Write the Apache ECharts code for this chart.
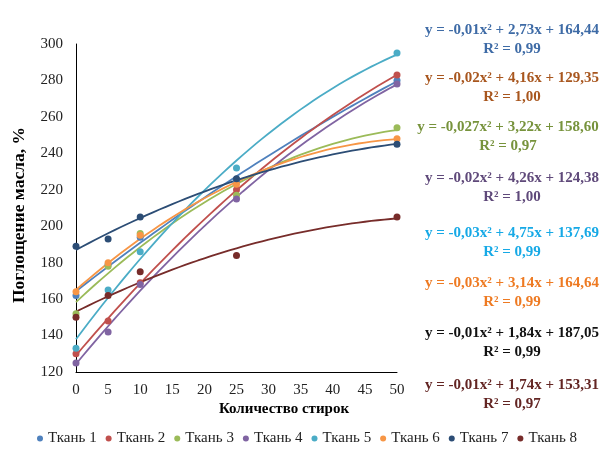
<!DOCTYPE html>
<html>
<head>
<meta charset="utf-8">
<script src="https://cdn.jsdelivr.net/npm/echarts@6/dist/echarts.min.js"></script>
<style>
  html, body { margin: 0; padding: 0; background: #fff; }
  #chartmain { width: 608px; height: 470px; }
</style>
</head>
<body>
<div id="chartmain"></div>
<script>
var xValues = [0, 5, 10, 25, 50]; // количество стирок
var names = ['Ткань 1', 'Ткань 2', 'Ткань 3', 'Ткань 4', 'Ткань 5', 'Ткань 6', 'Ткань 7', 'Ткань 8'];
var tkan1 = [162, 179, 194, 225, 280];
var tkan2 = [130, 148, 169, 220, 283];
var tkan3 = [152, 178, 196, 217, 254];
var tkan4 = [125, 142, 168, 215, 278];
var tkan5 = [133, 165, 186, 232, 295];
var tkan6 = [164, 180, 195, 223, 248];
var tkan7 = [189, 193, 205, 226, 245];
var tkan8 = [150, 162, 175, 184, 205];
var yTicks = [120, 140, 160, 180, 200, 220, 240, 260, 280, 300];
var xTicks = [0, 5, 10, 15, 20, 25, 30, 35, 40, 45, 50];

var equations = [
    'y = -0,01x² + 2,73x + 164,44',
    'y = -0,02x² + 4,16x + 129,35',
    'y = -0,027x² + 3,22x + 158,60',
    'y = -0,02x² + 4,26x + 124,38',
    'y = -0,03x² + 4,75x + 137,69',
    'y = -0,03x² + 3,14x + 164,64',
    'y = -0,01x² + 1,84x + 187,05',
    'y = -0,01x² + 1,74x + 153,31'
];
var r2Labels = ['R² = 0,99', 'R² = 1,00', 'R² = 0,97', 'R² = 1,00', 'R² = 0,99', 'R² = 0,99', 'R² = 0,99', 'R² = 0,97'];

var allData = [tkan1, tkan2, tkan3, tkan4, tkan5, tkan6, tkan7, tkan8];
var colors = ['#4F81BD', '#C0504D', '#9BBB59', '#8064A2', '#4BACC6', '#F79646', '#2C4D75', '#772C2A'];
var eqColors = ['#3E6BA6', '#A8561E', '#77933C', '#5F497A', '#16A9E6', '#EE7A22', '#111111', '#632523'];
var eqY = [30, 78, 127, 178, 233, 283, 333, 385]; // центр первой строки
var eqX = [512, 512, 508, 512, 512, 512, 512, 512];

var FONT = 'Liberation Serif';

// полиномиальный тренд 2-й степени (МНК), как в Excel
function fitQuad(xs, ys) {
    var s = [0, 0, 0, 0, 0], t = [0, 0, 0];
    for (var i = 0; i < xs.length; i++) {
        var p = 1;
        for (var k = 0; k < 5; k++) { s[k] += p; if (k < 3) t[k] += p * ys[i]; p *= xs[i]; }
    }
    var m = [[s[0], s[1], s[2], t[0]], [s[1], s[2], s[3], t[1]], [s[2], s[3], s[4], t[2]]];
    for (var c = 0; c < 3; c++) {
        for (var r = c + 1; r < 3; r++) {
            var f = m[r][c] / m[c][c];
            for (var q = c; q < 4; q++) m[r][q] -= f * m[c][q];
        }
    }
    var b = [0, 0, 0];
    for (var r2 = 2; r2 >= 0; r2--) {
        var v = m[r2][3];
        for (var q2 = r2 + 1; q2 < 3; q2++) v -= m[r2][q2] * b[q2];
        b[r2] = v / m[r2][r2];
    }
    return b;
}

initChart(echarts.init(document.getElementById('chartmain')));

function initChart(chart) {
    var series = [];
    // линии тренда
    allData.forEach(function (ys, i) {
        var b = fitQuad(xValues, ys);
        var trend = [];
        for (var x = 0; x <= 50; x += 1) trend.push([x, b[0] + b[1] * x + b[2] * x * x]);
        series.push({
            name: names[i] + ' тренд',
            type: 'line',
            data: trend,
            showSymbol: false,
            silent: true,
            lineStyle: { color: colors[i], width: 1.8 },
            z: 2
        });
    });
    // точки измерений
    allData.forEach(function (ys, i) {
        series.push({
            name: names[i],
            type: 'scatter',
            data: xValues.map(function (x, j) { return [x, ys[j]]; }),
            symbolSize: 7,
            itemStyle: { color: colors[i], opacity: 1 },
            z: 3
        });
    });

    var graphics = [];
    equations.forEach(function (eq, i) {
        graphics.push({
            type: 'text', x: eqX[i], y: eqY[i] - 9,
            style: {
                text: eq + '\n' + r2Labels[i],
                fill: eqColors[i], font: 'bold 15px "' + FONT + '"',
                align: 'center', verticalAlign: 'top', lineHeight: 18.5
            }
        });
    });
    graphics.push({
        type: 'text', x: 284, y: 409,
        style: { text: 'Количество стирок', fill: '#000', font: 'bold 15px "' + FONT + '"', align: 'center', verticalAlign: 'middle' }
    });
    graphics.push({
        type: 'text', x: 19, y: 215, rotation: Math.PI / 2,
        style: { text: 'Поглощение масла, %', fill: '#000', font: 'bold 17.5px "' + FONT + '"', align: 'center', verticalAlign: 'middle' }
    });

    chart.setOption({
        animation: false,
        color: colors,
        grid: { left: 76, right: 211, top: 44, bottom: 98 },
        legend: {
            data: names,
            icon: 'circle',
            itemWidth: 6, itemHeight: 6, itemGap: 9,
            left: 32, top: 426,
            textStyle: { fontFamily: FONT, fontSize: 15, color: '#222' }
        },
        xAxis: {
            type: 'value', min: xTicks[0], max: xTicks[xTicks.length - 1], interval: 5,
            splitLine: { show: false },
            axisTick: { show: false },
            axisLine: { lineStyle: { color: '#000', width: 1 } },
            axisLabel: { fontFamily: FONT, fontSize: 15, color: '#222', margin: 11 }
        },
        yAxis: {
            type: 'value', min: yTicks[0], max: yTicks[yTicks.length - 1], interval: 20,
            splitLine: { show: false },
            axisTick: { show: false },
            axisLine: { show: true, lineStyle: { color: '#000', width: 1 } },
            axisLabel: { fontFamily: FONT, fontSize: 15, color: '#222', margin: 13 }
        },
        graphic: graphics,
        series: series
    });
}
</script>
</body>
</html>
